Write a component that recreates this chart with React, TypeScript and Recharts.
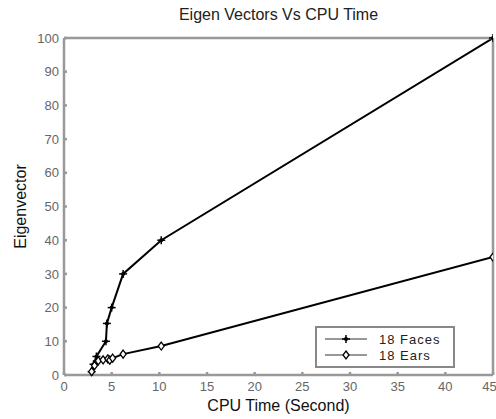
import { LineChart, Line, XAxis, YAxis } from 'recharts';

const facesTime = [2.9, 3.1, 3.4, 4.4, 4.5, 5, 6.2, 10.2, 45];
const facesEigen = [1, 3.2, 5.5, 10, 15.3, 20, 30, 40, 100];
const earsTime = [2.9, 3.2, 3.6, 4.1, 4.6, 4.8, 5.1, 6.2, 10.2, 45];
const earsEigen = [1, 2.8, 4.2, 4.5, 4.8, 4.4, 5, 6.2, 8.6, 35];
const xTicks = [0, 5, 10, 15, 20, 25, 30, 35, 40, 45];
const yTicks = [0, 10, 20, 30, 40, 50, 60, 70, 80, 90, 100];

const faces = facesTime.map((t, i) => ({ t, v: facesEigen[i] }));
const ears = earsTime.map((t, i) => ({ t, v: earsEigen[i] }));

const axisColor = '#999';
const textColor = '#666';
const font = '"Liberation Sans", Arial, sans-serif';

const PlusDot = (props: any) => {
  const { cx, cy } = props;
  if (cx == null || cy == null) return null;
  return (
    <g>
      <line x1={cx - 4} x2={cx + 4} y1={cy} y2={cy} stroke="#000" strokeWidth={1.5} />
      <line x1={cx} x2={cx} y1={cy - 4} y2={cy + 4} stroke="#000" strokeWidth={1.5} />
      <circle cx={cx} cy={cy} r={2} fill="#000" />
    </g>
  );
};

const DiamondDot = (props: any) => {
  const { cx, cy } = props;
  if (cx == null || cy == null) return null;
  return (
    <polygon
      points={`${cx},${cy - 4} ${cx + 3},${cy} ${cx},${cy + 4} ${cx - 3},${cy}`}
      fill="#fff"
      stroke="#000"
      strokeWidth={1.3}
    />
  );
};

const legendItems = [
  { name: '18 Faces', Dot: PlusDot },
  { name: '18 Ears', Dot: DiamondDot },
];

export default function App() {
  return (
    <div style={{ position: 'absolute', left: 0, top: 0, width: 496, height: 419, background: '#fff' }}>
      <div
        style={{
          position: 'absolute',
          top: 6,
          left: 64,
          width: 429,
          textAlign: 'center',
          fontFamily: font,
          fontSize: 16,
          color: '#222',
        }}
      >
        Eigen Vectors Vs CPU Time
      </div>
      <LineChart width={496} height={419} margin={{ top: 37, right: 0, bottom: 0, left: 0 }}>
        <XAxis
          xAxisId="b"
          dataKey="t"
          type="number"
          domain={[0, 45]}
          ticks={xTicks}
          allowDataOverflow
          height={44}
          stroke={axisColor}
          strokeWidth={2.5}
          tickSize={-3}
          tickMargin={10}
          tick={{ fill: textColor, fontSize: 13, fontFamily: font }}
          label={{ value: 'CPU Time (Second)', position: 'insideBottom', offset: 8, fill: '#111', fontSize: 16, fontFamily: font }}
        />
        <XAxis
          xAxisId="t"
          orientation="top"
          dataKey="t"
          type="number"
          domain={[0, 45]}
          ticks={xTicks}
          height={1}
          stroke={axisColor}
          strokeWidth={2.5}
          tickSize={-3}
          tick={false}
        />
        <YAxis
          yAxisId="l"
          dataKey="v"
          type="number"
          domain={[0, 100]}
          ticks={yTicks}
          width={64}
          stroke={axisColor}
          strokeWidth={2.5}
          tickSize={-3}
          tickMargin={8}
          tick={{ fill: textColor, fontSize: 13, fontFamily: font }}
          label={{ value: 'Eigenvector', angle: -90, position: 'insideLeft', offset: 20, fill: '#111', fontSize: 16, fontFamily: font, style: { textAnchor: 'middle' } }}
        />
        <YAxis
          yAxisId="r"
          orientation="right"
          dataKey="v"
          type="number"
          domain={[0, 100]}
          ticks={yTicks}
          width={3}
          stroke={axisColor}
          strokeWidth={2.5}
          tickSize={-3}
          tick={false}
        />
        <Line
          xAxisId="b"
          yAxisId="l"
          data={faces}
          dataKey="v"
          name="18 Faces"
          stroke="#000"
          strokeWidth={2}
          dot={<PlusDot />}
          isAnimationActive={false}
        />
        <Line
          xAxisId="b"
          yAxisId="l"
          data={ears}
          dataKey="v"
          name="18 Ears"
          stroke="#000"
          strokeWidth={2}
          dot={<DiamondDot />}
          isAnimationActive={false}
        />
      </LineChart>
      <div
        style={{
          position: 'absolute',
          left: 315,
          top: 326,
          border: '2px solid #888',
          background: '#fff',
          width: 136,
          padding: '3px 0',
          fontFamily: font,
          fontSize: 13,
          color: '#222',
          letterSpacing: 1,
        }}
      >
        {legendItems.map(({ name, Dot }) => (
          <div key={name} style={{ display: 'flex', alignItems: 'center', height: 16 }}>
            <svg width={50} height={14} style={{ marginLeft: 6 }}>
              <line x1={2} x2={44} y1={7} y2={7} stroke="#333" strokeWidth={1.2} />
              <Dot cx={23} cy={7} />
            </svg>
            <span style={{ marginLeft: 6 }}>{name}</span>
          </div>
        ))}
      </div>
    </div>
  );
}
